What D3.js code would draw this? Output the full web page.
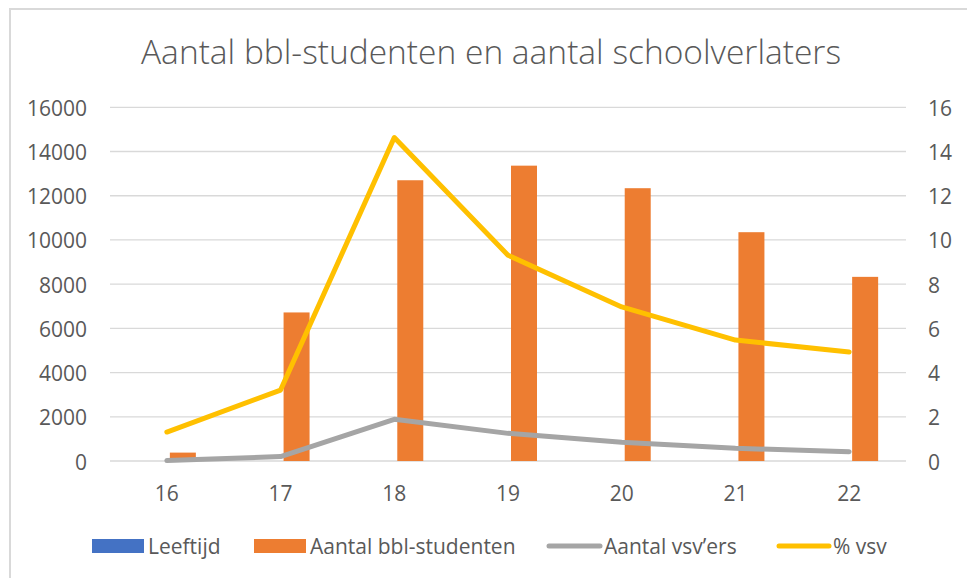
<!DOCTYPE html>
<html><head><meta charset="utf-8">
<script src="https://cdn.jsdelivr.net/npm/d3@7"></script>
<style>html,body{margin:0;padding:0;background:#fff;}svg{display:block;}</style>
</head><body><svg id="c" width="967" height="578"></svg>
<script>
const categories = ["16","17","18","19","20","21","22"];
const leeftijd = [16,17,18,19,20,21,22];
const bblStudenten = [380,6720,12700,13360,12340,10350,8330];
const vsvAantal = [20,200,1885,1250,845,575,420];
const vsvPct = [1.31,3.21,14.63,9.31,6.97,5.47,4.93];
const leftTicks = [0,2000,4000,6000,8000,10000,12000,14000,16000];
const rightTicks = [0,2,4,6,8,10,12,14,16];
const seriesNames = ["Leeftijd","Aantal bbl-studenten","Aantal vsv\u2019ers","% vsv"];
const colors = {Leeftijd:"#4472C4", bbl:"#ED7D31", vsv:"#A5A5A5", pct:"#FFC000"};

const svg = d3.select("#c");
const font = "'Open Sans', 'Liberation Sans', sans-serif";
const txt = "#595959";

// chart border
svg.append("rect").attr("x",10).attr("y",9).attr("width",1000).attr("height",600)
  .attr("fill","none").attr("stroke","#D9D9D9").attr("stroke-width",2);

const L = 110, R = 906, T = 107.3, B = 461;
const x = d3.scaleBand().domain(categories).range([L,R]).padding(0);
const yL = d3.scaleLinear().domain([0,16000]).range([B,T]);
const yR = d3.scaleLinear().domain([0,16]).range([B,T]);
const cx = c => x(c) + x.bandwidth()/2;
const inner = d3.scaleBand().domain(["Leeftijd","bbl"]).range([-29,29]).paddingInner(0.1875).paddingOuter(0);

// gridlines
svg.append("g").selectAll("line").data(leftTicks).join("line")
  .attr("x1",L).attr("x2",R).attr("y1",d=>yL(d)).attr("y2",d=>yL(d))
  .attr("stroke","#D9D9D9").attr("stroke-width",1.3);

// left axis
const axL = d3.axisLeft(yL).tickValues(leftTicks).tickSize(0).tickPadding(0).tickFormat(d3.format("d"));
const gL = svg.append("g").attr("transform","translate(87,0)").call(axL);
gL.select(".domain").remove();
gL.selectAll("text").attr("font-family",font).attr("font-size",21).attr("fill",txt)
  .attr("dy",null).attr("dominant-baseline","central");

// right axis
const axR = d3.axisRight(yR).tickValues(rightTicks).tickSize(0).tickPadding(0).tickFormat(d3.format("d"));
const gR = svg.append("g").attr("transform","translate(928,0)").call(axR);
gR.select(".domain").remove();
gR.selectAll("text").attr("font-family",font).attr("font-size",21).attr("fill",txt)
  .attr("dy",null).attr("dominant-baseline","central");

// x axis
const axX = d3.axisBottom(x).tickSize(0).tickPadding(0);
const gX = svg.append("g").attr("transform","translate(0,501)").call(axX);
gX.select(".domain").remove();
gX.selectAll("text").attr("font-family",font).attr("font-size",21).attr("fill",txt).attr("dy",null)
  .attr("dominant-baseline","auto");

// bars
svg.append("g").attr("shape-rendering","crispEdges").selectAll("rect").data(categories).join("rect")
  .attr("x",(c)=>cx(c)+inner("Leeftijd")).attr("width",inner.bandwidth())
  .attr("y",(c,i)=>yL(leeftijd[i])).attr("height",(c,i)=>B-yL(leeftijd[i]))
  .attr("fill",colors.Leeftijd);
svg.append("g").selectAll("rect").data(categories).join("rect")
  .attr("x",(c)=>cx(c)+inner("bbl")).attr("width",inner.bandwidth())
  .attr("y",(c,i)=>yL(bblStudenten[i])).attr("height",(c,i)=>B-yL(bblStudenten[i]))
  .attr("fill",colors.bbl);

// lines
const lineL = d3.line().x((d,i)=>cx(categories[i])).y(d=>yL(d));
const lineR = d3.line().x((d,i)=>cx(categories[i])).y(d=>yR(d));
svg.append("path").datum(vsvAantal).attr("d",lineL).attr("fill","none")
  .attr("stroke",colors.vsv).attr("stroke-width",5).attr("stroke-linecap","round").attr("stroke-linejoin","round");
svg.append("path").datum(vsvPct).attr("d",lineR).attr("fill","none")
  .attr("stroke",colors.pct).attr("stroke-width",5).attr("stroke-linecap","round").attr("stroke-linejoin","round");

// title
svg.append("text").attr("x",491).attr("y",64).attr("text-anchor","middle")
  .attr("font-family",font).attr("font-size",33).attr("font-weight",300).attr("fill",txt)
  .attr("textLength",700).attr("lengthAdjust","spacingAndGlyphs")
  .text("Aantal bbl-studenten en aantal schoolverlaters");

// legend
const lg = svg.append("g");
const legendItems = [
  {name:seriesNames[0], type:"rect", color:colors.Leeftijd, x0:92, x1:144, tx:148},
  {name:seriesNames[1], type:"rect", color:colors.bbl, x0:254, x1:306, tx:310},
  {name:seriesNames[2], type:"line", color:colors.vsv, x0:549, x1:600, tx:604},
  {name:seriesNames[3], type:"line", color:colors.pct, x0:779, x1:829, tx:833}
];
legendItems.forEach(it=>{
  if(it.type==="rect"){
    lg.append("rect").attr("x",it.x0).attr("y",539).attr("width",it.x1-it.x0).attr("height",14).attr("fill",it.color);
  } else {
    lg.append("line").attr("x1",it.x0).attr("x2",it.x1).attr("y1",546).attr("y2",546)
      .attr("stroke",it.color).attr("stroke-width",5).attr("stroke-linecap","round");
  }
  lg.append("text").attr("x",it.tx).attr("y",546).attr("dominant-baseline","central")
    .attr("font-family",font).attr("font-size",21).attr("fill",txt).text(it.name);
});
</script></body></html>
